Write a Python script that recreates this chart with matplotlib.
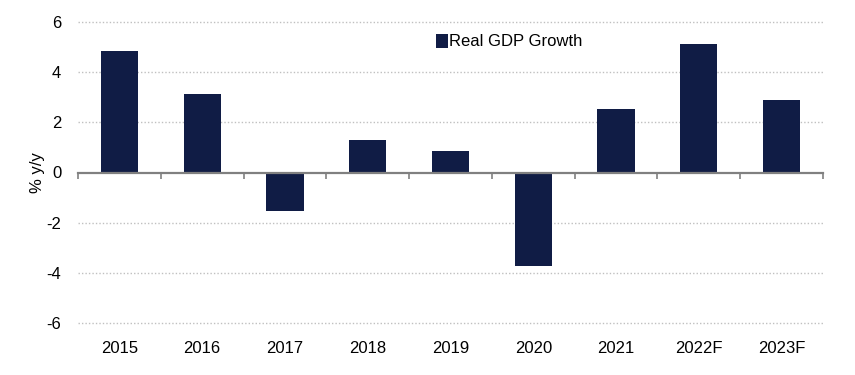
import numpy as np
import matplotlib.pyplot as plt

plt.rcParams['font.family'] = ['Liberation Sans', 'DejaVu Sans']
plt.rcParams['axes.unicode_minus'] = False

years = ['2015', '2016', '2017', '2018', '2019', '2020', '2021', '2022F', '2023F']
gdp_growth = [4.85, 3.13, -1.54, 1.3, 0.87, -3.71, 2.54, 5.14, 2.9]

bar_color = '#101c45'
x = np.arange(len(years))

fig = plt.figure(figsize=(8.55, 3.75), dpi=100)
ax = fig.add_axes([78 / 855, (375 - 323) / 375, (823 - 78) / 855, (323 - 22) / 375])

ax.bar(x, gdp_growth, width=0.45, color=bar_color, label='Real GDP Growth', zorder=3)

ax.set_xlim(-0.5, len(years) - 0.5)
ax.set_ylim(-6, 6)
ax.set_yticks([-6, -4, -2, 0, 2, 4, 6])
ax.tick_params(axis='y', length=0, labelsize=12, pad=12)
ax.set_ylabel('% y/y', fontsize=12, labelpad=1)

# dotted grid at every tick except zero
for v in [-6, -4, -2, 2, 4, 6]:
    ax.axhline(v, color='#c0c0c0', linestyle=(0, (1, 1.5)), linewidth=1.0, zorder=1, clip_on=False)

for s in ['top', 'right', 'left']:
    ax.spines[s].set_visible(False)

# zero axis line with ticks between categories
ax.spines['bottom'].set_position(('data', 0))
ax.spines['bottom'].set_color('#808080')
ax.spines['bottom'].set_linewidth(1.6)
ax.spines['bottom'].set_zorder(4)
ax.set_xticks(x)
ax.tick_params(axis='x', which='major', length=0, labelbottom=False)
ax.set_xticks(np.arange(-0.5, len(years)), minor=True)
ax.tick_params(axis='x', which='minor', length=4, width=1.2, color='#808080', direction='out')

# category labels at the bottom of the plot area
sec = ax.secondary_xaxis('bottom')
sec.set_xticks(x)
sec.set_xticklabels(years)
sec.tick_params(length=0, labelsize=12, pad=13)
sec.spines['bottom'].set_visible(False)

ax.legend(loc='upper left', bbox_to_anchor=(0.465, 1.0), frameon=False, fontsize=12,
          handlelength=0.7, handleheight=0.9, handletextpad=0.05, borderpad=0.2)

fig.savefig('out.png', dpi=100)
